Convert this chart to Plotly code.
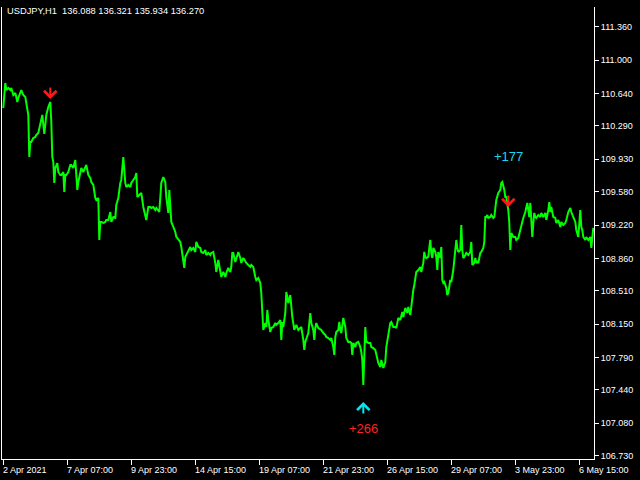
import plotly.graph_objects as go

# ---------------- data ----------------
title_text = "USDJPY,H1  136.088 136.321 135.934 136.270"

bars = [0,1,2,3,5,7,8,10,12,13,14,15,17,18,20,22,23,25,26,27,28,30,32,33,35,37,38,39,41,42,43,45,47,48,49,50,
        51,52,53,54,55,57,58,60,61,62,63,65,67,68,70,72,73,74,75,77,78,80,82,83,85,87,88,90,92,93,95,96,97,98,
        100,102,103,105,107,108,110,112,113,115,117,118,120,121,122,123,125,127,128,130,132,133,134,136,138,140,
        142,143,145,147,148,150,152,153,156,157,158,160,162,163,165,166,167,168,170,172,173,175,177,178,180,181,
        182,183,185,187,188,190,192,193,195,197,198,200,202,203,205,207,208,210,212,213,215,217,218,220,222,223,
        225,227,228,229,230,232,233,235,237,238,240,242,243,245,247,248,250,252,253,255,257,258,259,260,262,263,
        264,265,267,268,270,272,273,275,277,278,279,280,282,283,284,285,287,288,289,291,292,293,295,297,298,300,
        301,302,303,305,307,308,310,311,312,313,315,317,318,320,322,323,325,327,328,330,331,332,333,335,336,337,
        338,340,342,343,345,347,348,349,350,352,353,355,357,358,359,360,361,362,363,364,365,367,368,370,372,373,
        375,377,378,380,382,383,385,387,388,390,392,393,395,397,399,400,402,404,405,407,408,409,410,411,412,413,
        415,417,418,420,421,422,423,425,426,427,428,429,430,432,433,434,435,437,438,439,440,441,442,443,444,445,
        447,448,450,451,452,453,454,455,457,458,459,460,461,462,463,465,467,468,469,471,472,473,474,475,477,478,
        480,481,482,483,484,485,487,488,490,491,492,493,495,497,498,499,501,502,503,504,505,506,507,508,509,510,
        512,513,515,517,518,520,522,523,524,525,526,527,528,529,530,531,532,533,535,537,538,540,542,543,545,546,
        547,548,550,552,553,555,557,558,560,562,563,565,567,568,570,572,573,575,577,578,579,580,582,583,585,587,
        588,589,590]

closes = [110.484,110.700,110.754,110.678,110.700,110.678,110.700,110.624,110.646,110.603,110.549,110.592,110.657,
          110.678,110.624,110.603,110.538,110.409,109.955,110.117,110.117,110.160,110.171,110.193,110.214,110.301,
          110.376,110.409,110.203,110.301,110.409,110.495,110.549,110.333,109.955,109.901,
          109.675,109.836,109.869,109.890,109.793,109.761,109.761,109.793,109.577,109.761,109.761,109.793,109.869,
          109.869,109.836,109.923,109.761,109.599,109.685,109.793,109.836,109.793,109.836,109.869,109.761,109.728,
          109.685,109.653,109.513,109.491,109.513,109.059,109.254,109.254,
          109.243,109.254,109.275,109.275,109.361,109.254,109.307,109.297,109.437,109.513,109.675,109.707,109.955,
          109.782,109.675,109.631,109.653,109.631,109.675,109.707,109.739,109.782,109.523,109.545,109.567,109.415,
          109.307,109.275,109.415,109.415,109.405,109.415,109.383,109.405,109.361,109.567,109.675,109.739,109.685,
          109.523,109.351,109.599,109.383,109.254,109.200,109.146,109.092,109.059,109.038,108.984,108.843,108.757,
          108.876,108.897,108.951,108.984,108.951,108.973,108.930,109.038,108.984,108.973,108.930,108.919,108.951,
          108.897,108.919,108.897,108.919,108.930,108.811,108.714,108.843,108.735,108.660,108.714,108.660,108.703,
          108.757,108.714,108.768,108.919,108.919,108.822,108.865,108.930,108.865,108.811,108.865,108.822,108.811,
          108.789,108.768,108.789,108.768,108.660,108.627,108.649,108.595,108.487,108.228,108.088,108.163,108.120,
          108.304,108.196,108.066,108.109,108.120,108.163,108.142,108.163,108.196,107.980,108.174,108.120,108.271,
          108.498,108.444,108.379,108.465,108.336,108.228,108.088,108.120,108.142,108.088,108.109,108.120,107.980,
          107.872,107.958,108.001,108.055,108.271,108.163,108.088,107.980,108.109,108.163,108.109,108.088,108.088,
          108.055,108.034,108.012,108.001,107.980,108.001,107.904,107.818,108.012,108.066,108.088,108.174,108.088,
          108.055,108.217,108.120,108.001,107.958,107.958,107.947,107.818,107.947,107.904,107.947,107.958,107.904,
          107.850,107.764,107.494,107.947,108.120,107.958,107.958,107.947,107.947,107.904,107.893,107.872,107.818,
          107.731,107.688,107.764,107.677,107.742,107.904,108.055,108.163,108.174,108.120,108.120,108.109,108.217,
          108.196,108.282,108.228,108.325,108.271,108.336,108.249,108.336,108.444,108.519,108.573,108.660,108.714,
          108.735,108.768,108.714,108.811,108.930,108.876,108.865,108.876,108.973,109.059,108.919,108.865,108.973,
          108.930,108.876,108.735,108.930,108.865,108.984,108.627,108.595,108.606,108.573,108.541,108.465,108.487,
          108.627,108.606,108.735,108.876,108.984,109.059,108.973,108.930,108.951,109.221,108.951,108.865,108.876,
          108.897,108.919,108.897,108.930,109.038,108.789,108.811,108.865,108.811,108.822,108.811,108.919,108.930,
          108.973,109.038,109.307,109.307,109.329,109.297,109.307,109.329,109.297,109.307,109.405,109.491,109.567,
          109.599,109.675,109.685,109.599,109.523,109.523,109.459,109.383,109.243,108.951,109.135,109.113,109.092,
          109.092,109.059,109.081,109.167,109.243,109.297,109.361,109.415,109.459,109.383,109.307,109.459,109.275,
          109.092,109.243,109.351,109.307,109.297,109.329,109.307,109.351,109.307,109.351,109.275,109.383,109.469,
          109.361,109.415,109.307,109.297,109.243,109.275,109.200,109.254,109.221,109.243,109.275,109.361,109.405,
          109.361,109.307,109.254,109.167,109.092,109.383,109.200,109.167,109.092,109.059,109.092,109.059,109.092,
          108.973,109.113,109.189]

price_ticks = [111.36, 111.00, 110.64, 110.29, 109.93, 109.58, 109.22, 108.86, 108.51, 108.15, 107.79, 107.44, 107.08, 106.73]
time_tick_bars = [0, 64, 128, 192, 256, 320, 384, 448, 512, 576]
time_tick_labels = ["2 Apr 2021", "7 Apr 07:00", "9 Apr 23:00", "14 Apr 15:00", "19 Apr 07:00",
                    "21 Apr 23:00", "26 Apr 15:00", "29 Apr 07:00", "3 May 23:00", "6 May 15:00"]

sell_bars = [47, 505]
buy_bars = [360]
profit_labels = [("+266", 360, "buy"), ("+177", 505, "sell")]

# ---------------- figure ----------------
FONT = "Liberation Sans, Arial, sans-serif"
close_at = dict(zip(bars, closes))

fig = go.Figure()
fig.add_trace(go.Scatter(x=bars, y=closes, mode="lines",
                         line=dict(color="#00ff00", width=2), hoverinfo="skip"))

ann = []
# header
ann.append(dict(xref="paper", yref="paper", x=0, y=1, xanchor="left", yanchor="top",
                xshift=3, yshift=3, text=title_text, showarrow=False,
                font=dict(family=FONT, size=9.3, color="white")))
# time labels (left aligned at tick)
for b, t in zip(time_tick_bars, time_tick_labels):
    ann.append(dict(xref="x", yref="paper", x=b, y=0, xanchor="left", yanchor="top",
                    xshift=-2, yshift=-4, text=t, showarrow=False,
                    font=dict(family=FONT, size=9, color="white")))
# sell arrows
for b in sell_bars:
    ann.append(dict(xref="x", yref="y", x=b, y=close_at[b], ax=0, ay=-13, yshift=3,
                    showarrow=True, arrowhead=4, arrowsize=1.2, arrowwidth=2,
                    arrowcolor="#ff1a1a", text=""))
# buy arrows
for b in buy_bars:
    ann.append(dict(xref="x", yref="y", x=b, y=close_at[b], ax=0, ay=13, yshift=-17,
                    showarrow=True, arrowhead=4, arrowsize=1.2, arrowwidth=2,
                    arrowcolor="#00e8f0", text=""))
# profit texts
for txt, b, kind in profit_labels:
    if kind == "buy":
        ann.append(dict(xref="x", yref="y", x=b, y=close_at[b], yshift=-44, showarrow=False,
                        text=txt, font=dict(family="Liberation Sans", size=13, color="#ff2020")))
    else:
        ann.append(dict(xref="x", yref="y", x=b, y=close_at[b], yshift=53, showarrow=False,
                        text=txt, font=dict(family="Liberation Sans", size=13, color="#19d9ee")))

fig.update_layout(
    width=640, height=480,
    margin=dict(l=2, r=46, t=7, b=21, autoexpand=False),
    paper_bgcolor="black", plot_bgcolor="black",
    showlegend=False,
    annotations=ann,
    xaxis=dict(range=[-1.3, 590.7], showgrid=False, zeroline=False,
               showline=True, linecolor="white", linewidth=1,
               tickmode="array", tickvals=time_tick_bars, ticks="outside",
               ticklen=5, tickcolor="white", tickwidth=1, showticklabels=False),
    yaxis=dict(range=[106.695, 111.574], side="right", showgrid=False, zeroline=False,
               showline=True, mirror=True, linecolor="white", linewidth=1,
               tickmode="array", tickvals=price_ticks,
               ticktext=[f"{v:.3f}" for v in price_ticks],
               ticks="outside", ticklen=4, tickcolor="white", tickwidth=1,
               tickfont=dict(family=FONT, size=9, color="white")),
)

fig.write_html("out.html", config={"displayModeBar": False},
               post_script="document.body.style.margin='0px';document.body.style.background='black';")
